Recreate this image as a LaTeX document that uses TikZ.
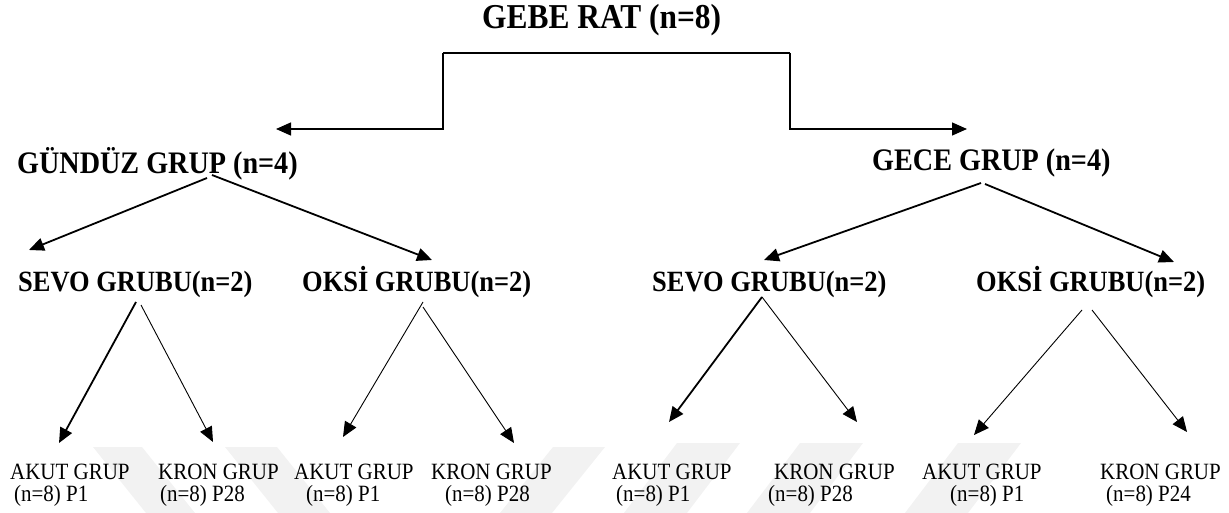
\documentclass[tikz,border=0pt]{standalone}
\usepackage{fontspec}
\setmainfont{Liberation Serif}[FakeStretch=0.9]
\usetikzlibrary{arrows.meta}
\begin{document}
\begin{tikzpicture}[x=1pt,y=-1pt,
  txt/.style={inner sep=0pt, anchor=base west},
  toptxt/.style={txt, font=\bfseries\fontsize{34.9}{40}\selectfont},
  grptxt/.style={txt, font=\bfseries\fontsize{31.3}{36}\selectfont},
  subtxt/.style={txt, font=\bfseries\fontsize{29.4}{34}\selectfont},
  leaftxt/.style={txt, font=\fontsize{23.3}{26}\selectfont},
  tip/.style={-{Triangle[length=15pt,width=13pt]}},
  heavy/.style={tip, line width=1.8pt},
  light/.style={tip, line width=0.9pt},
  elbow/.style={tip, line width=1.4pt},
  wmark/.style={fill=black!5, draw=none},
]
\useasboundingbox (0,0) rectangle (1229,513);

% faint watermark bands
\fill[wmark] (93,447) -- (142,447) -- (195,513) -- (146,513) -- cycle;
\fill[wmark] (225,447) -- (277,447) -- (330,513) -- (278,513) -- cycle;
\fill[wmark] (553,447) -- (605,447) -- (552,513) -- (500,513) -- cycle;
\fill[wmark] (677,443) -- (740,443) -- (687,513) -- (624,513) -- cycle;
\fill[wmark] (800,443) -- (863,443) -- (810,513) -- (747,513) -- cycle;
\fill[wmark] (958,443) -- (1021,443) -- (968,513) -- (905,513) -- cycle;

% texts
\node[toptxt] (rat) at (482,29) {GEBE RAT (n=8)};
\node[grptxt] (gun) at (17,174) {GÜNDÜZ GRUP (n=4)};
\node[grptxt] (gec) at (872,171) {GECE GRUP (n=4)};
\node[subtxt] (sevoL) at (18,291) {SEVO GRUBU(n=2)};
\node[subtxt] (oksiL) at (302,291) {OKSİ GRUBU(n=2)};
\node[subtxt] (sevoR) at (652,291) {SEVO GRUBU(n=2)};
\node[subtxt] (oksiR) at (976,291) {OKSİ GRUBU(n=2)};

\node[leaftxt] (l1a) at (10,479) {AKUT GRUP};
\node[leaftxt] (l1b) at (14,501) {(n=8) P1};
\node[leaftxt] (l2a) at (158,479) {KRON GRUP};
\node[leaftxt] (l2b) at (160,501) {(n=8) P28};
\node[leaftxt] (l3a) at (294,479) {AKUT GRUP};
\node[leaftxt] (l3b) at (306,501) {(n=8) P1};
\node[leaftxt] (l4a) at (431,479) {KRON GRUP};
\node[leaftxt] (l4b) at (445,501) {(n=8) P28};
\node[leaftxt] (l5a) at (612,479) {AKUT GRUP};
\node[leaftxt] (l5b) at (616,501) {(n=8) P1};
\node[leaftxt] (l6a) at (774,479) {KRON GRUP};
\node[leaftxt] (l6b) at (768,501) {(n=8) P28};
\node[leaftxt] (l7a) at (922,479) {AKUT GRUP};
\node[leaftxt] (l7b) at (950,501) {(n=8) P1};
\node[leaftxt] (l8a) at (1100,479) {KRON GRUP};
\node[leaftxt] (l8b) at (1106,501) {(n=8) P24};

% connector points
\coordinate (ratL) at (443,53);
\coordinate (ratR) at (790,53);
\coordinate (gunTip) at (276,129);
\coordinate (gecTip) at (967,129);

\coordinate (gunS1) at (207,178);
\coordinate (gunS2) at (212,175);
\coordinate (sevoLTip) at (29,250);
\coordinate (oksiLTip) at (432,260);
\coordinate (gecS1) at (981,183);
\coordinate (gecS2) at (985,184);
\coordinate (sevoRTip) at (764,260);
\coordinate (oksiRTip) at (1174,262);

\coordinate (sLs1) at (136,302);
\coordinate (sLs2) at (141,305);
\coordinate (oLs1) at (423,302);
\coordinate (oLs2) at (423,307);
\coordinate (sRs) at (762,297);
\coordinate (oRs1) at (1082,310);
\coordinate (oRs2) at (1092,310);
\coordinate (t1) at (59,443);
\coordinate (t2) at (213,442);
\coordinate (t3) at (343,437);
\coordinate (t4) at (514,443);
\coordinate (t5) at (669,422);
\coordinate (t6) at (857,422);
\coordinate (t7) at (974,435);
\coordinate (t8) at (1187,432);

% top elbow connector
\draw[elbow] (ratL) -- (ratL |- gunTip) -- (gunTip);
\draw[elbow] (ratR) -- (ratR |- gecTip) -- (gecTip);
\draw[line width=1.4pt] (ratL) -- (ratR);

% level 2
\draw[heavy] (gunS1) -- (sevoLTip);
\draw[heavy] (gunS2) -- (oksiLTip);
\draw[heavy] (gecS1) -- (sevoRTip);
\draw[heavy] (gecS2) -- (oksiRTip);

% level 3
\draw[heavy] (sLs1) -- (t1);
\draw[light] (sLs2) -- (t2);
\draw[light] (oLs1) -- (t3);
\draw[light] (oLs2) -- (t4);
\draw[heavy] (sRs) -- (t5);
\draw[light] (sRs) -- (t6);
\draw[light] (oRs1) -- (t7);
\draw[light] (oRs2) -- (t8);
\end{tikzpicture}
\end{document}
